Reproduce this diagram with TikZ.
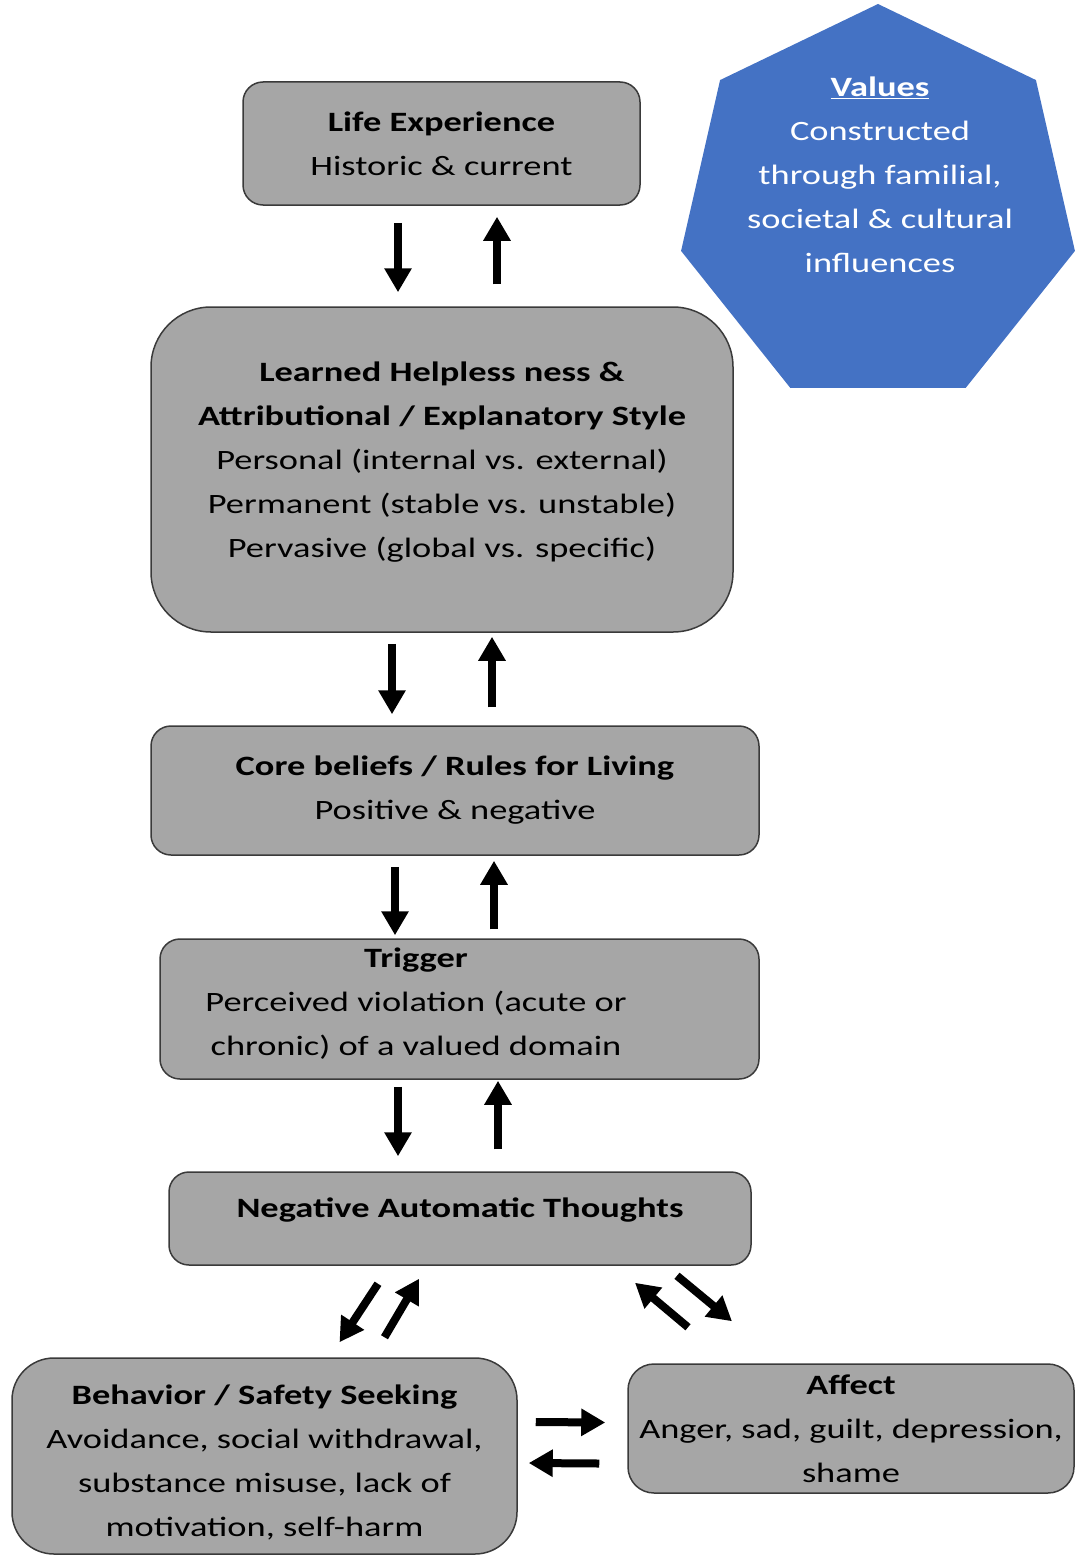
\documentclass[tikz,border=0pt]{standalone}
\usepackage{fontspec}
\setmainfont{Carlito}[FakeStretch=1.3]
\usepackage{tikz}
\usetikzlibrary{positioning}
\usetikzlibrary{shapes.geometric}
\usetikzlibrary{arrows.meta,calc}
\definecolor{boxgray}{HTML}{A6A6A6}
\definecolor{boxline}{HTML}{3A3A3A}
\definecolor{valblue}{HTML}{4472C4}

\begin{document}
\begin{tikzpicture}[x=1pt, y=-1pt,
    every node/.style={font=\fontsize{28}{44}\selectfont, align=center, inner sep=0pt},
    block/.style={draw=boxline, line width=1.5pt, fill=boxgray, rounded corners=20pt},
    bigarrow/.style={line width=8pt, -{Triangle[width=26pt,length=24pt]}}]

    \useasboundingbox (0,0) rectangle (1075,1557);

    % Nodes
    \node at (878,206) (values) [regular polygon, regular polygon sides=7, minimum size=404pt, fill=valblue] {};
    \node at (880,175) (values_text) [text=white] {\textbf{\underline{Values}}\\Constructed\\through familial,\\societal \& cultural\\influences};

    \node at (441.5,143.5) (life) [block, minimum width=397pt, minimum height=123pt] {\textbf{Life Experience}\\Historic \& current};
    \node at (442,469.5) (learned) [block, rounded corners=60pt, minimum width=582pt, minimum height=325pt] {\textbf{Learned Helpless ness \&}\\\textbf{Attributional / Explanatory Style}\\Personal (internal vs. external)\\Permanent (stable vs. unstable)\\Pervasive (global vs. specific)\\[-24pt]};
    \node at (455,790.5) (core) [block, minimum width=608pt, minimum height=129pt] {\textbf{Core beliefs / Rules for Living}\\Positive \& negative};
    \node at (459.5,1009) (trigger) [block, minimum width=599pt, minimum height=140pt] {};
    \node at (416,1004) (trigger_text) {\textbf{Trigger}\\Perceived violation (acute or\\chronic) of a valued domain};
    \node at (460,1218.5) (nat) [block, minimum width=582pt, minimum height=93pt] {\textbf{Negative Automatic Thoughts}\\[-22pt]};
    \node at (264.5,1456) (behavior) [block, rounded corners=42pt, minimum width=505pt, minimum height=196pt] {\textbf{Behavior / Safety Seeking}\\Avoidance, social withdrawal,\\substance misuse, lack of\\motivation, self-harm\\[-54pt]};
    \node at (851,1428.5) (affect) [block, rounded corners=26pt, minimum width=446pt, minimum height=129pt] {\textbf{Affect}\\Anger, sad, guilt, depression,\\shame};

    % Arrows
    \draw[bigarrow, shorten <=17pt, shorten >=14pt] (life.south -| 398,0) -- (learned.north -| 398,0);
    \draw[bigarrow, shorten <=22pt, shorten >=11pt] (learned.north -| 497,0) -- (life.south -| 497,0);
    \draw[bigarrow, shorten <=11pt, shorten >=11pt] (learned.south -| 392,0) -- (core.north -| 392,0);
    \draw[bigarrow, shorten <=18pt, shorten >=4pt] (core.north -| 492,0) -- (learned.south -| 492,0);
    \draw[bigarrow, shorten <=11pt, shorten >=3pt] (core.south -| 395,0) -- (trigger.north -| 395,0);
    \draw[bigarrow, shorten <=9pt, shorten >=5pt] (trigger.north -| 494,0) -- (core.south -| 494,0);
    \draw[bigarrow, shorten <=7pt, shorten >=15pt] (trigger.south -| 398,0) -- (nat.north -| 398,0);
    \draw[bigarrow, shorten <=22pt, shorten >=1pt] (nat.north -| 498,0) -- (trigger.south -| 498,0);

    % Diagonal and side arrows
    \draw[bigarrow] ($(nat.south)+(-82,18)$) -- ($(behavior.north)+(75,-15)$);
    \draw[bigarrow] ($(behavior.north)+(120,-20)$) -- ($(nat.south)+(-41,13)$);
    \draw[bigarrow] ($(affect.north)+(-163,-36)$) -- ($(nat.south)+(175,17)$);
    \draw[bigarrow] ($(nat.south)+(217,10)$) -- ($(affect.north)+(-119,-42)$);
    \draw[bigarrow] ($(behavior.east)+(18,-34)$) -- ($(affect.west)+(-22,-6)$);
    \draw[bigarrow] ($(affect.west)+(-28,35)$) -- ($(behavior.east)+(11,7)$);

\end{tikzpicture}
\end{document}
